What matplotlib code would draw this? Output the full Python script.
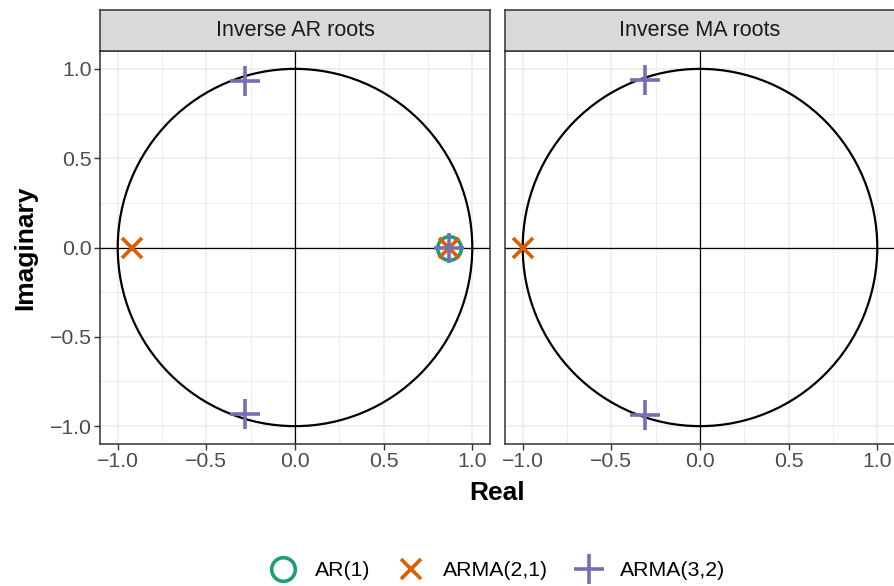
import matplotlib.pyplot as plt
from matplotlib.patches import Circle
from matplotlib.lines import Line2D

plt.rcParams['font.family'] = ['Liberation Sans', 'DejaVu Sans']

# data
models = ['AR(1)', 'ARMA(2,1)', 'ARMA(3,2)']
colors = ['#1b9e77', '#d95f02', '#7570b3']
markers = ['o', 'x', '+']
msizes = [17, 15, 21]

ar_re = {'AR(1)': [0.87], 'ARMA(2,1)': [-0.92, 0.87], 'ARMA(3,2)': [-0.28, -0.28, 0.87]}
ar_im = {'AR(1)': [0.0], 'ARMA(2,1)': [0.0, 0.0], 'ARMA(3,2)': [0.93, -0.93, 0.0]}
ma_re = {'AR(1)': [], 'ARMA(2,1)': [-1.0], 'ARMA(3,2)': [-0.31, -0.31]}
ma_im = {'AR(1)': [], 'ARMA(2,1)': [0.0], 'ARMA(3,2)': [0.94, -0.94]}

panels = ['Inverse AR roots', 'Inverse MA roots']
ticks = [-1.0, -0.5, 0.0, 0.5, 1.0]
tick_labels = ['\u22121.0', '\u22120.5', '0.0', '0.5', '1.0']

W, H = 894, 586
fig = plt.figure(figsize=(W / 100, H / 100), dpi=100)

def fx(px):
    return px / W

def fy(py):
    return 1 - py / H

lefts = [100, 505]
pw = 390
top, bot, strip_top = 51, 444, 10

for k, title in enumerate(panels):
    L = lefts[k]
    ax = fig.add_axes([fx(L), fy(bot), pw / W, (bot - top) / H])
    ax.set_xlim(-1.1, 1.1)
    ax.set_ylim(-1.1, 1.1)
    ax.set_xticks(ticks)
    ax.set_yticks(ticks)
    ax.set_xticks([-0.75, -0.25, 0.25, 0.75], minor=True)
    ax.set_yticks([-0.75, -0.25, 0.25, 0.75], minor=True)
    ax.set_xticklabels(tick_labels)
    if k == 0:
        ax.set_yticklabels(tick_labels)
    else:
        ax.tick_params(axis='y', which='both', left=False, labelleft=False)
    ax.grid(True, which='major', color='#ebebeb', lw=1.1)
    ax.grid(True, which='minor', color='#ebebeb', lw=0.6)
    ax.set_axisbelow(True)
    ax.tick_params(which='minor', length=0)
    ax.tick_params(which='major', length=4, width=1, color='#333333',
                   labelsize=15.3, labelcolor='#4d4d4d', pad=2)
    for s in ax.spines.values():
        s.set_color('#333333')
        s.set_linewidth(1.1)
    ax.axhline(0, color='black', lw=0.9, zorder=1)
    ax.axvline(0, color='black', lw=0.9, zorder=1)
    ax.add_patch(Circle((0, 0), 1, fill=False, ec='black', lw=1.6, zorder=2))

    re = ar_re if k == 0 else ma_re
    im = ar_im if k == 0 else ma_im
    for m, c, mk, ms in zip(models, colors, markers, msizes):
        if not re[m]:
            continue
        if mk == 'o':
            ax.plot(re[m], im[m], ls='none', marker='o', ms=ms, mfc='none',
                    mec=c, mew=2.6, zorder=3)
        else:
            ax.plot(re[m], im[m], ls='none', marker=mk, ms=ms, color=c,
                    mew=2.6, zorder=4)

    sax = fig.add_axes([fx(L), fy(top), pw / W, (top - strip_top) / H])
    sax.set_facecolor('#d9d9d9')
    sax.set_xticks([])
    sax.set_yticks([])
    for s in sax.spines.values():
        s.set_color('#333333')
        s.set_linewidth(1.1)
    sax.text(0.5, 0.5, title, ha='center', va='center', fontsize=15.5,
             color='#1a1a1a', transform=sax.transAxes)

fig.text(fx(497), fy(493), 'Real', ha='center', va='center',
         fontsize=19, fontweight='bold')
fig.text(fx(25), fy(248), 'Imaginary', ha='center', va='center',
         rotation=90, fontsize=19, fontweight='bold')

handles = []
for m, c, mk, ms in zip(models, colors, markers, msizes):
    if mk == 'o':
        h = Line2D([], [], ls='none', marker='o', ms=ms, mfc='none', mec=c, mew=2.6)
    else:
        h = Line2D([], [], ls='none', marker=mk, ms=ms, color=c, mew=2.6)
    handles.append(h)
fig.legend(handles, models, loc='center', bbox_to_anchor=(fx(496), fy(571)),
           ncol=3, frameon=False, fontsize=15.3, handletextpad=0.7,
           columnspacing=1.1, handlelength=1.6)

fig.savefig('out.png', dpi=100)
